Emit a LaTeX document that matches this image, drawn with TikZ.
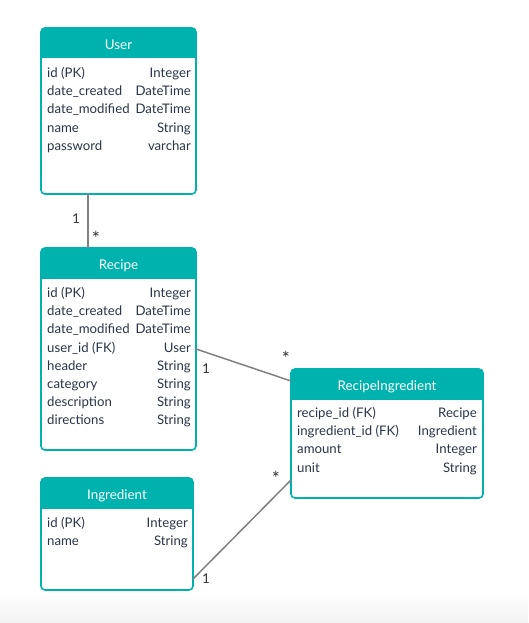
\documentclass[tikz,border=0pt]{standalone}
\usepackage{fontspec}
\setmainfont{Lato}
\usetikzlibrary{positioning}
\definecolor{erteal}{HTML}{00B2AE}
\definecolor{ertext}{HTML}{2A3549}
\definecolor{erline}{HTML}{808080}
\definecolor{ermult}{HTML}{333333}

\tikzset{
  entity/.style={draw=erteal, line width=1.6pt, rounded corners=4pt, fill=white,
                 anchor=north west, inner sep=0pt, outer sep=0pt},
  enttitle/.style={text=white, font=\fontsize{13.4}{15}\selectfont, inner sep=0pt, anchor=base},
  attr/.style={text=ertext, font=\fontsize{13.2}{15}\selectfont, inner sep=0pt},
  link/.style={draw=erline, line width=1.5pt},
  mult/.style={text=ermult, font=\fontsize{13.5}{15}\selectfont, inner sep=0pt},
  multstar/.style={mult, font=\fontsize{19}{20}\selectfont}
}

\begin{document}
\begin{tikzpicture}[x=1pt, y=-1pt]
    \useasboundingbox (0,0) rectangle (528,623);
    \shade[top color=white, bottom color=black!5] (0,592) rectangle (528,623);

    % entity boxes
    \node[entity, minimum width=155pt, minimum height=166pt] (user) at (41,28) {};
    \node[entity, minimum width=155pt, minimum height=202pt] (recipe) at (41,248) {};
    \node[entity, minimum width=152pt, minimum height=112pt] (ingr) at (41,478) {};
    \node[entity, minimum width=192pt, minimum height=129pt] (ri) at (291,369) {};

    % header bars
    \foreach \e in {user, recipe, ingr, ri} {
      \begin{scope}
        \clip (\e.north west) rectangle ([yshift=-30pt]\e.north east);
        \fill[erteal, rounded corners=4pt] (\e.north west) rectangle (\e.south east);
      \end{scope}
    }

    \node[enttitle] (user-title) at ([yshift=-21.3pt]user.north) {User};
    \node[enttitle] (recipe-title) at ([yshift=-21.3pt]recipe.north) {Recipe};
    \node[enttitle] (ingr-title) at ([yshift=-21.3pt]ingr.north) {Ingredient};
    \node[enttitle] (ri-title) at ([yshift=-21.3pt]ri.north) {RecipeIngredient};

    % attribute rows
    \foreach \f/\t [count=\i, evaluate=\i as \y using -49.5-18.2*(\i-1)] in
        {id (PK)/Integer, date\_created/DateTime, date\_modified/DateTime, name/String, password/varchar} {
      \node[attr, anchor=base west] (user-f\i) at ([xshift=6pt, yshift=\y pt]user.north west) {\f};
      \node[attr, anchor=base east] (user-t\i) at ([xshift=-5pt, yshift=\y pt]user.north east) {\t};
    }
    \foreach \f/\t [count=\i, evaluate=\i as \y using -49.5-18.2*(\i-1)] in
        {id (PK)/Integer, date\_created/DateTime, date\_modified/DateTime, user\_id (FK)/User,
         header/String, category/String, description/String, directions/String} {
      \node[attr, anchor=base west] (recipe-f\i) at ([xshift=6pt, yshift=\y pt]recipe.north west) {\f};
      \node[attr, anchor=base east] (recipe-t\i) at ([xshift=-5pt, yshift=\y pt]recipe.north east) {\t};
    }
    \foreach \f/\t [count=\i, evaluate=\i as \y using -49.5-18.2*(\i-1)] in
        {id (PK)/Integer, name/String} {
      \node[attr, anchor=base west] (ingr-f\i) at ([xshift=6pt, yshift=\y pt]ingr.north west) {\f};
      \node[attr, anchor=base east] (ingr-t\i) at ([xshift=-5pt, yshift=\y pt]ingr.north east) {\t};
    }
    \foreach \f/\t [count=\i, evaluate=\i as \y using -48.5-18.2*(\i-1)] in
        {recipe\_id (FK)/Recipe, ingredient\_id (FK)/Ingredient, amount/Integer, unit/String} {
      \node[attr, anchor=base west] (ri-f\i) at ([xshift=6pt, yshift=\y pt]ri.north west) {\f};
      \node[attr, anchor=base east] (ri-t\i) at ([xshift=-6pt, yshift=\y pt]ri.north east) {\t};
    }

    % relations
    \draw[link] ([xshift=-30.5pt]user.south) coordinate (ur1) -- ([xshift=-30.5pt]recipe.north) coordinate (ur2);
    \node[mult] (ur-one) at ([xshift=-12pt, yshift=-25pt]ur1) {1};
    \node[multstar] (ur-many) at ([xshift=8pt, yshift=10pt]ur2) {*};

    \draw[link] (recipe.east) coordinate (rr1) -- ([yshift=-12pt]ri.north west) coordinate (rr2);
    \node[mult] (rr-one) at ([xshift=10pt, yshift=-20pt]rr1) {1};
    \node[multstar] (rr-many) at ([xshift=-5pt, yshift=23pt]rr2) {*};

    \draw[link] ([yshift=11pt]ingr.south east) coordinate (ir1) -- ([yshift=18pt]ri.south west) coordinate (ir2);
    \node[mult] (ir-one) at ([xshift=13pt]ir1) {1};
    \node[multstar] (ir-many) at ([xshift=-15pt, yshift=2pt]ir2) {*};
\end{tikzpicture}
\end{document}
